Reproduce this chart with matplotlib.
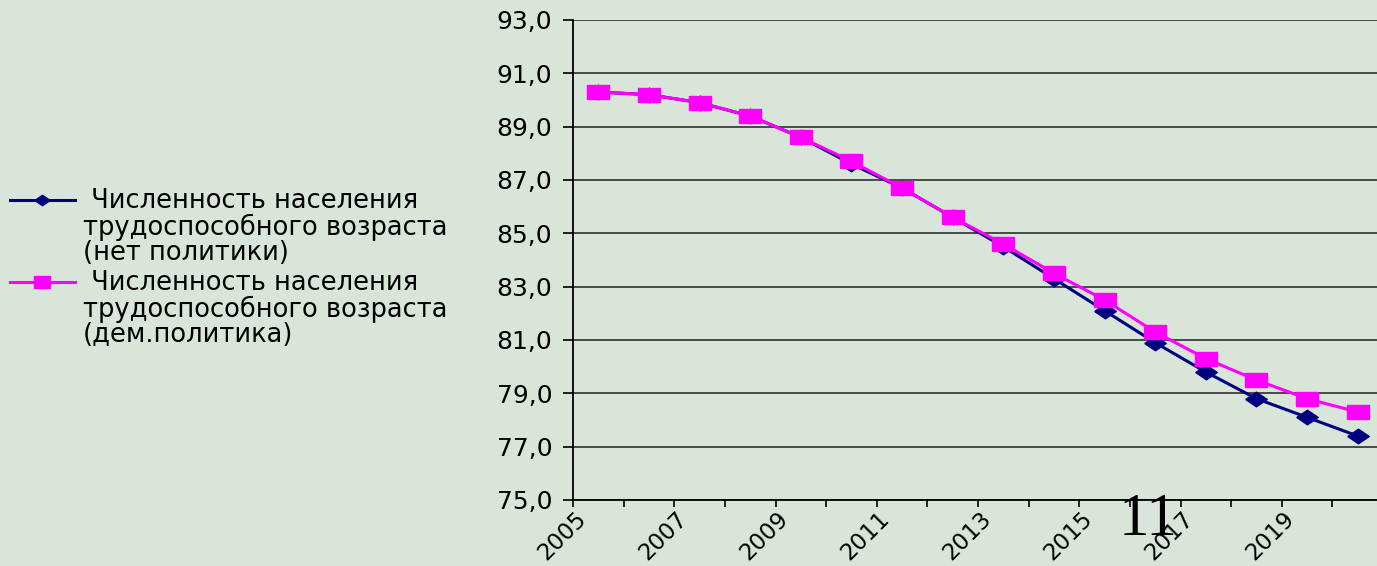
import numpy as np
import matplotlib
matplotlib.use("Agg")
import matplotlib.pyplot as plt
import matplotlib.ticker as mticker
from matplotlib.lines import Line2D
from matplotlib.transforms import ScaledTranslation

# Working-age population, two scenarios
YEARS = [str(y) for y in range(2005, 2021)]
NO_POLICY = [90.3, 90.2, 89.9, 89.4, 88.6, 87.6, 86.7, 85.6,
             84.5, 83.3, 82.1, 80.9, 79.8, 78.8, 78.1, 77.4]
DEM_POLICY = [90.3, 90.2, 89.9, 89.4, 88.6, 87.7, 86.7, 85.6,
              84.6, 83.5, 82.5, 81.3, 80.3, 79.5, 78.8, 78.3]
LABELS = [
    " Численность населения\nтрудоспособного возраста\n(нет политики)",
    " Численность населения\nтрудоспособного возраста\n(дем.политика)",
]
SLIDE_NO = "11"

BG = "#D9E5D9"
NAVY = "#000080"
MAGENTA = "#FF00FF"
W, H = 1377, 566

# slightly squashed markers, the slide was stretched horizontally
DIAMOND = [(-1, 0), (0, 0.68), (1, 0), (0, -0.68), (-1, 0)]
RECT = [(-1, -0.68), (1, -0.68), (1, 0.68), (-1, 0.68), (-1, -0.68)]

plt.rcParams["font.family"] = ["DejaVu Sans"]

fig = plt.figure(figsize=(W / 100, H / 100), dpi=100)
fig.patch.set_facecolor(BG)
ax = fig.add_axes([573 / W, 1 - 500 / H, 810 / W, 480 / H])
ax.set_facecolor(BG)

x = np.arange(len(YEARS))
ax.plot(x, NO_POLICY, color=NAVY, lw=2.2, marker=DIAMOND, ms=15.5,
        mec=NAVY, mfc=NAVY, zorder=3)
ax.plot(x, DEM_POLICY, color=MAGENTA, lw=2.2, marker=RECT, ms=15.5,
        mec=MAGENTA, mfc=MAGENTA, zorder=4)

ax.set_xlim(-0.5, len(YEARS) - 0.5)
ax.set_ylim(75, 93)
ax.set_yticks(np.arange(75, 94, 2))
ax.yaxis.set_major_formatter(mticker.FuncFormatter(lambda v, _: f"{v:.1f}".replace(".", ",")))
ax.yaxis.grid(True, color="#3c3c3c", lw=1.3)
ax.set_axisbelow(True)

for s in ("top", "right"):
    ax.spines[s].set_visible(False)
for s in ("left", "bottom"):
    ax.spines[s].set_color("black")
    ax.spines[s].set_linewidth(1.3)

ax.set_xticks(x[::2])
ax.set_xticklabels(YEARS[::2])
ax.set_xticks(np.arange(-0.5, len(YEARS), 1), minor=True)
ax.tick_params(axis="x", which="major", length=0, pad=5, labelsize=16.5)
ax.tick_params(axis="x", which="minor", length=5, width=1.2, direction="out")
ax.tick_params(axis="y", length=7, width=1.2, pad=8, labelsize=18)

shift = ScaledTranslation(-24 / 100, 0, fig.dpi_scale_trans)
for lab in ax.get_xticklabels():
    lab.set_rotation(45)
    lab.set_rotation_mode("anchor")
    lab.set_ha("right")
    lab.set_va("top")
    lab.set_transform(lab.get_transform() + shift)

# legend drawn by hand: sample line sits on the first text line
for (lbl, col, mk, ms, y) in [(LABELS[0], NAVY, DIAMOND, 11, 200),
                              (LABELS[1], MAGENTA, RECT, 12, 282)]:
    fig.add_artist(Line2D([10 / W, 42 / W, 75 / W], [1 - y / H] * 3, color=col,
                          lw=2.2, marker=mk, ms=ms, mfc=col, mec=col, markevery=[1]))
    fig.text(83 / W, 1 - (y - 12) / H, lbl, fontsize=18.5, va="top", ha="left",
             linespacing=0.98, color="black")

fig.text(1148 / W, 1 - 535 / H, SLIDE_NO, fontsize=44, family="Liberation Serif",
         ha="center", va="baseline", color="black")

fig.savefig("out.png", dpi=100, facecolor=BG)
